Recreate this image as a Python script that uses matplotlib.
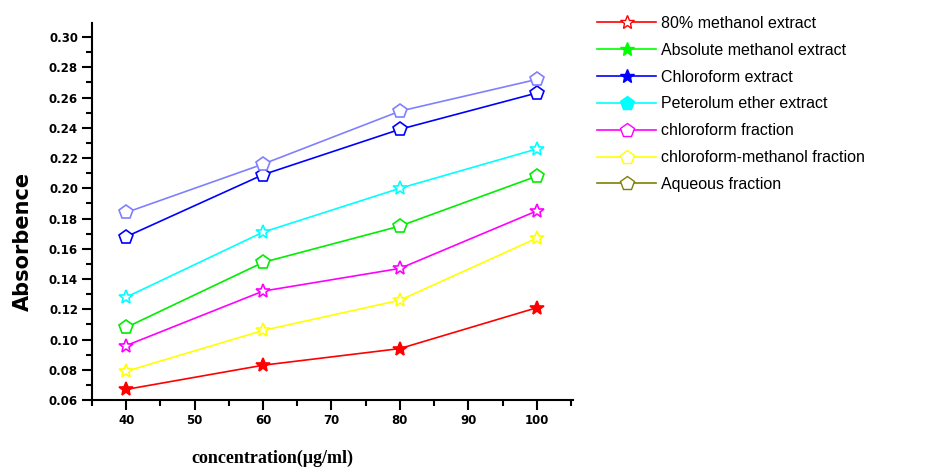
import matplotlib
matplotlib.use("Agg")
import matplotlib.pyplot as plt
from matplotlib.lines import Line2D
from matplotlib.ticker import MultipleLocator

conc = [40, 60, 80, 100]
labels = ["80% methanol extract", "Absolute methanol extract", "Chloroform extract",
          "Peterolum ether extract", "chloroform fraction",
          "chloroform-methanol fraction", "Aqueous fraction"]
methanol80 = [0.067, 0.083, 0.094, 0.121]
abs_methanol = [0.108, 0.151, 0.175, 0.208]
chloroform_ext = [0.168, 0.209, 0.239, 0.263]
pet_ether = [0.128, 0.171, 0.200, 0.226]
chloro_frac = [0.096, 0.132, 0.147, 0.185]
chloro_meth_frac = [0.079, 0.106, 0.126, 0.167]
aqueous = [0.184, 0.216, 0.251, 0.272]
series = [methanol80, abs_methanol, chloroform_ext, pet_ether, chloro_frac,
          chloro_meth_frac, aqueous]

line_colors = ["#ff0000", "#00ee00", "#0000ff", "#00ffff", "#ff00ff", "#ffff00", "#8080ff"]
line_markers = ["*", "p", "p", "*", "*", "*", "p"]
line_faces = ["#ff0000", "white", "white", "white", "white", "white", "white"]
leg_colors = ["#ff0000", "#00ff00", "#0000ff", "#00ffff", "#ff00ff", "#ffff00", "#808000"]
leg_markers = ["*", "*", "*", "p", "p", "p", "p"]
leg_faces = ["white", "#00ff00", "#0000ff", "#00ffff", "white", "white", "white"]

fig = plt.figure(figsize=(9.53, 4.68), dpi=100)
ax = fig.add_axes([92/953, 1-400/468, (573-92)/953, (400-23)/468])

for ys, c, m, f in zip(series, line_colors, line_markers, line_faces):
    ax.plot(conc, ys, color=c, lw=1.2, marker=m, markersize=10,
            markerfacecolor=f, markeredgecolor=c, markeredgewidth=1.2)

ax.set_xlim(35, 105.3)
ax.set_ylim(0.06, 0.3093)
ax.xaxis.set_major_locator(MultipleLocator(10))
ax.xaxis.set_minor_locator(MultipleLocator(5))
ax.yaxis.set_minor_locator(MultipleLocator(0.01))
ax.set_yticks([0.06 + 0.02*i for i in range(13)])
ax.set_yticklabels([f"{0.06 + 0.02*i:.2f}" for i in range(13)])

for s in ["top", "right"]:
    ax.spines[s].set_visible(False)
for s in ["left", "bottom"]:
    ax.spines[s].set_linewidth(1.5)
ax.tick_params(which="major", direction="out", length=7, width=1.5, labelsize=8.5, pad=3)
ax.tick_params(which="minor", direction="out", length=4, width=1.5)
for lab in ax.get_xticklabels() + ax.get_yticklabels():
    lab.set_fontweight("bold")

fig.text(23/953, 1-241/468, "Absorbence", rotation=90, fontsize=15, fontweight="bold",
         ha="center", va="center", family="DejaVu Sans")
fig.text(272/953, 1-458/468, "concentration(\u03bcg/ml)", fontsize=13, fontweight="bold",
         ha="center", va="center", family="Liberation Serif")

handles = [Line2D([0], [0], color=c, lw=1.2, marker=m, markersize=10,
                  markerfacecolor=f, markeredgecolor=c)
           for c, m, f in zip(leg_colors, leg_markers, leg_faces)]
fig.legend(handles, labels, loc="upper left", bbox_to_anchor=(597/953, 1-16/468),
           frameon=False, handlelength=3.7, handletextpad=0.3,
           labelspacing=0.74, borderaxespad=0, borderpad=0,
           prop={"family": "Liberation Sans", "size": 11.5})

fig.savefig("out.png", dpi=100)
